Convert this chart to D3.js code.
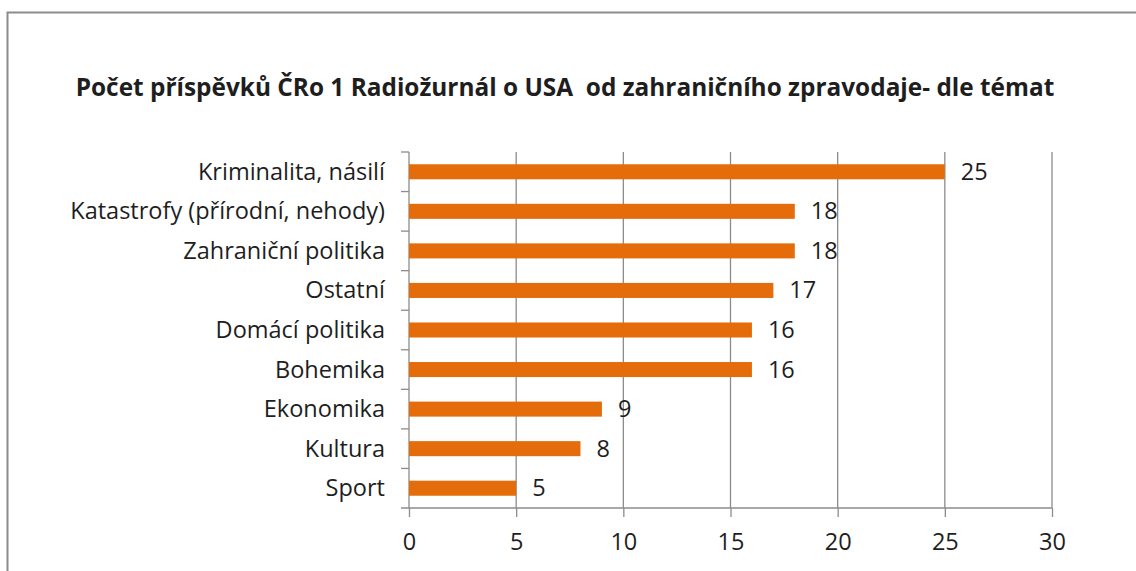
<!DOCTYPE html>
<html>
<head>
<meta charset="utf-8">
<script src="https://cdn.jsdelivr.net/npm/d3@7"></script>
<style>
  body { margin: 0; background: #fff; }
  svg text { font-family: "Open Sans", Lato, sans-serif; fill: #1e1e1e; }
</style>
</head>
<body>
<div id="chart"></div>
<script>
const categories = [
  "Kriminalita, násilí",
  "Katastrofy (přírodní, nehody)",
  "Zahraniční politika",
  "Ostatní",
  "Domácí politika",
  "Bohemika",
  "Ekonomika",
  "Kultura",
  "Sport",
];
const values = [25, 18, 18, 17, 16, 16, 9, 8, 5];
const xTicks = [0, 5, 10, 15, 20, 25, 30];
const title = "Počet příspěvků ČRo 1 Radiožurnál o USA  od zahraničního zpravodaje- dle témat";

const width = 1136;
const height = 571;
const margin = { top: 152, right: 84, bottom: 63, left: 409 };
const labelSize = "23.5px";

const svg = d3
  .select("#chart")
  .append("svg")
  .attr("width", width)
  .attr("height", height);

// chart frame (only top and left edges are visible in the picture)
svg
  .append("path")
  .attr("d", `M7.5,${height + 5}V12.5H${width + 5}`)
  .attr("fill", "none")
  .attr("stroke", "#8c8c8c")
  .attr("stroke-width", 2);

svg
  .append("text")
  .attr("x", 565)
  .attr("y", 96)
  .attr("text-anchor", "middle")
  .style("font-size", "24.4px")
  .style("font-weight", "bold")
  .style("white-space", "pre")
  .text(title);

const x = d3
  .scaleLinear()
  .domain([0, 30])
  .range([margin.left, width - margin.right]);

const y = d3
  .scaleBand()
  .domain(categories)
  .range([margin.top, height - margin.bottom])
  .paddingInner(0.62)
  .paddingOuter(0.31);

const plotBottom = height - margin.bottom;
const gridColor = "#8c8c8c";

// vertical gridlines
svg
  .append("g")
  .selectAll("line")
  .data(xTicks.filter((d) => d > 0))
  .join("line")
  .attr("x1", (d) => x(d))
  .attr("x2", (d) => x(d))
  .attr("y1", margin.top)
  .attr("y2", plotBottom)
  .attr("stroke", gridColor)
  .attr("stroke-width", 1.3);

// x axis
const xAxis = svg
  .append("g")
  .attr("transform", `translate(0,${plotBottom})`)
  .call(d3.axisBottom(x).tickValues(xTicks).tickSize(9).tickPadding(16));
xAxis.select(".domain").remove();
xAxis.selectAll(".tick line").attr("stroke", gridColor).attr("stroke-width", 1.3);
xAxis
  .selectAll(".tick text")
  .style("font-size", labelSize)
  .style("font-family", "'Open Sans', sans-serif")
  .attr("fill", "#1e1e1e");

svg
  .append("line")
  .attr("x1", x(0) - 8)
  .attr("x2", x(30))
  .attr("y1", plotBottom)
  .attr("y2", plotBottom)
  .attr("stroke", gridColor)
  .attr("stroke-width", 1.3);

// y axis line and boundary ticks
svg
  .append("line")
  .attr("x1", x(0))
  .attr("x2", x(0))
  .attr("y1", margin.top)
  .attr("y2", plotBottom)
  .attr("stroke", gridColor)
  .attr("stroke-width", 1.3);

const step = y.step();
const bounds = categories.map((c) => y(c) - (step * y.paddingInner()) / 2);
svg
  .append("g")
  .selectAll("line")
  .data(bounds)
  .join("line")
  .attr("x1", x(0) - 8)
  .attr("x2", x(0))
  .attr("y1", (d) => d)
  .attr("y2", (d) => d)
  .attr("stroke", gridColor)
  .attr("stroke-width", 1.3);

// category labels
svg
  .append("g")
  .selectAll("text")
  .data(categories)
  .join("text")
  .attr("x", x(0) - 24)
  .attr("y", (d) => y(d) + y.bandwidth() / 2 + 8)
  .attr("text-anchor", "end")
  .style("font-size", labelSize)
  .text((d) => d);

// bars
const rows = categories.map((c, i) => ({ cat: c, val: values[i] }));
svg
  .append("g")
  .selectAll("rect")
  .data(rows)
  .join("rect")
  .attr("x", x(0))
  .attr("y", (d) => y(d.cat))
  .attr("width", (d) => x(d.val) - x(0))
  .attr("height", y.bandwidth())
  .attr("fill", "#e46c0a");

// value labels
svg
  .append("g")
  .selectAll("text")
  .data(rows)
  .join("text")
  .attr("x", (d) => x(d.val) + 16)
  .attr("y", (d) => y(d.cat) + y.bandwidth() / 2 + 8)
  .style("font-size", labelSize)
  .text((d) => d.val);
</script>
</body>
</html>
